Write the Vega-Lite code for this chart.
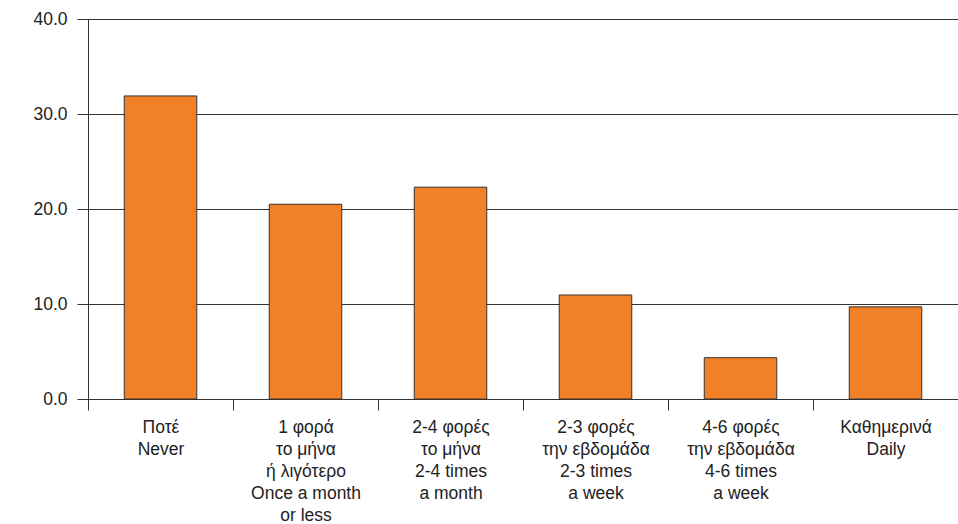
{
  "$schema": "https://vega.github.io/schema/vega-lite/v6.json",
  "width": 870,
  "height": 380,
  "autosize": {"type": "none"},
  "padding": {"left": 88, "top": 19, "right": 0, "bottom": 125},
  "background": "white",
  "config": {
    "view": {"stroke": null},
    "font": "Liberation Sans",
    "axis": {"labelFont": "Liberation Sans", "labelFontSize": 17.5, "labelColor": "#222222"}
  },
  "data": {
    "values": [
      {"category": "Ποτέ|Never", "value": 31.9},
      {"category": "1 φορά|το μήνα|ή λιγότερο|Once a month|or less", "value": 20.5},
      {"category": "2-4 φορές|το μήνα|2-4 times|a month", "value": 22.3},
      {"category": "2-3 φορές|την εβδομάδα|2-3 times|a week", "value": 10.95},
      {"category": "4-6 φορές|την εβδομάδα|4-6 times|a week", "value": 4.35},
      {"category": "Καθημερινά|Daily", "value": 9.7}
    ]
  },
  "mark": {"type": "bar", "color": "#F28026", "stroke": "#333333", "strokeWidth": 1, "width": {"band": 0.5}},
  "encoding": {
    "x": {
      "field": "category",
      "type": "nominal",
      "sort": null,
      "scale": {"paddingInner": 0, "paddingOuter": 0},
      "axis": {
        "title": null,
        "labelAngle": 0,
        "labelExpr": "split(datum.label, '|')",
        "labelLineHeight": 22,
        "labelPadding": 8,
        "labelBaseline": "top",
        "tickBand": "extent",
        "tickSize": 11,
        "tickColor": "#333333",
        "domain": false,
        "labelLimit": 0
      }
    },
    "y": {
      "field": "value",
      "type": "quantitative",
      "scale": {"domain": [0, 40], "nice": false},
      "axis": {
        "title": null,
        "values": [0, 10, 20, 30, 40],
        "format": ".1f",
        "grid": true,
        "gridColor": "#333333",
        "gridOpacity": 1,
        "gridWidth": 1,
        "domain": true,
        "domainColor": "#333333",
        "tickColor": "#333333",
        "tickSize": 11,
        "labelPadding": 10
      }
    }
  }
}
